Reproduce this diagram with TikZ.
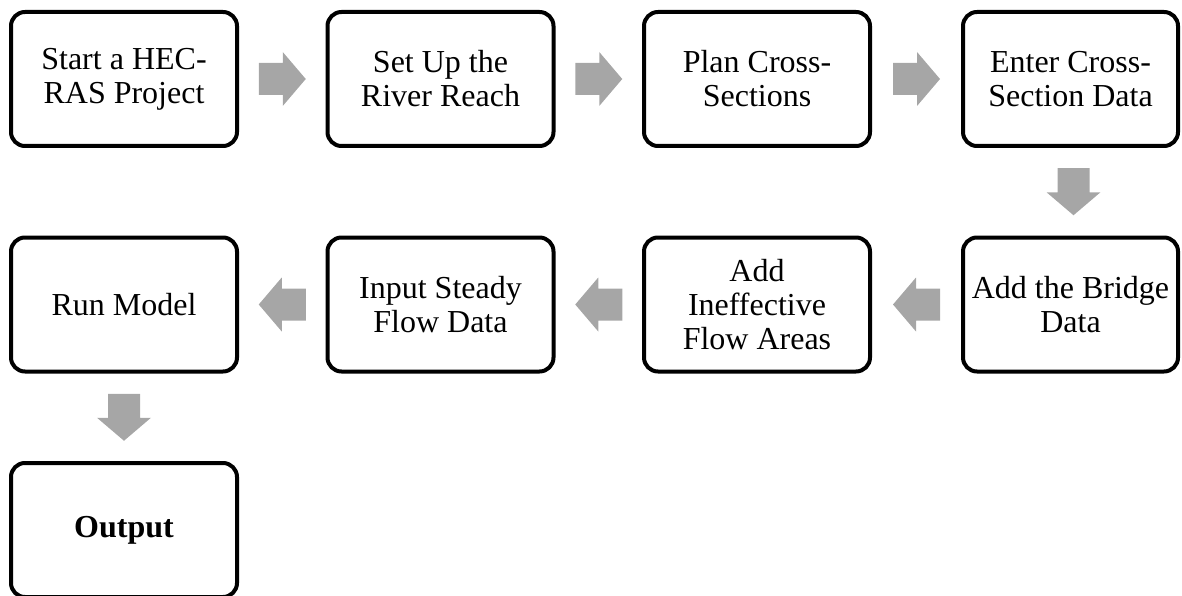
\documentclass[tikz,border=0pt]{standalone}
\usepackage{fontspec}
\setmainfont{Liberation Serif}
\usetikzlibrary{calc}
\definecolor{arrowgray}{RGB}{166,166,166}
\tikzset{
  stepbox/.style={draw=black, line width=4pt, rounded corners=14pt, fill=white,
    minimum width=226pt, minimum height=134pt, inner sep=0pt, align=center,
    font=\fontsize{32}{34}\selectfont},
  pics/flowarrow/.style={code={
    \fill[arrowgray] (-23.5,-16) -- (0.5,-16) -- (0.5,-27) -- (23.5,0)
      -- (0.5,27) -- (0.5,16) -- (-23.5,16) -- cycle;}}
}
\begin{document}
\begin{tikzpicture}[x=1pt,y=-1pt]
  \useasboundingbox (0,0) rectangle (1182,596);
  % first row, left to right
  \node[stepbox] (s1) at (124,79)    {Start a HEC-\\RAS Project};
  \node[stepbox] (s2) at (440.5,79)  {Set Up the\\River Reach};
  \node[stepbox] (s3) at (757,79)    {Plan Cross-\\Sections};
  \node[stepbox, minimum width=215pt] (s4) at (1070.5,79) {Enter Cross-\\Section Data};
  % second row, right to left
  \node[stepbox, minimum width=215pt] (s5) at (1070.5,304.5) {Add the Bridge\\Data};
  \node[stepbox] (s6) at (757,304.5)   {Add\\Ineffective\\Flow Areas};
  \node[stepbox] (s7) at (440.5,304.5) {Input Steady\\Flow Data};
  \node[stepbox] (s8) at (124,304.5)   {Run Model};
  % result
  \node[stepbox] (s9) at (124,530) {\bfseries Output};
  % block arrows between consecutive steps
  \pic at ($(s1.east)!0.5!(s2.west)$) {flowarrow};
  \pic at ($(s2.east)!0.5!(s3.west)$) {flowarrow};
  \pic at ($(s3.east)!0.5!(s4.west)$) {flowarrow};
  \pic[rotate=-90] at ($(s4.south)!0.5!(s5.north)+(3,0)$) {flowarrow};
  \pic[rotate=180] at ($(s5.west)!0.5!(s6.east)$) {flowarrow};
  \pic[rotate=180] at ($(s6.west)!0.5!(s7.east)$) {flowarrow};
  \pic[rotate=180] at ($(s7.west)!0.5!(s8.east)$) {flowarrow};
  \pic[rotate=-90] at ($(s8.south)!0.5!(s9.north)$) {flowarrow};
\end{tikzpicture}
\end{document}
